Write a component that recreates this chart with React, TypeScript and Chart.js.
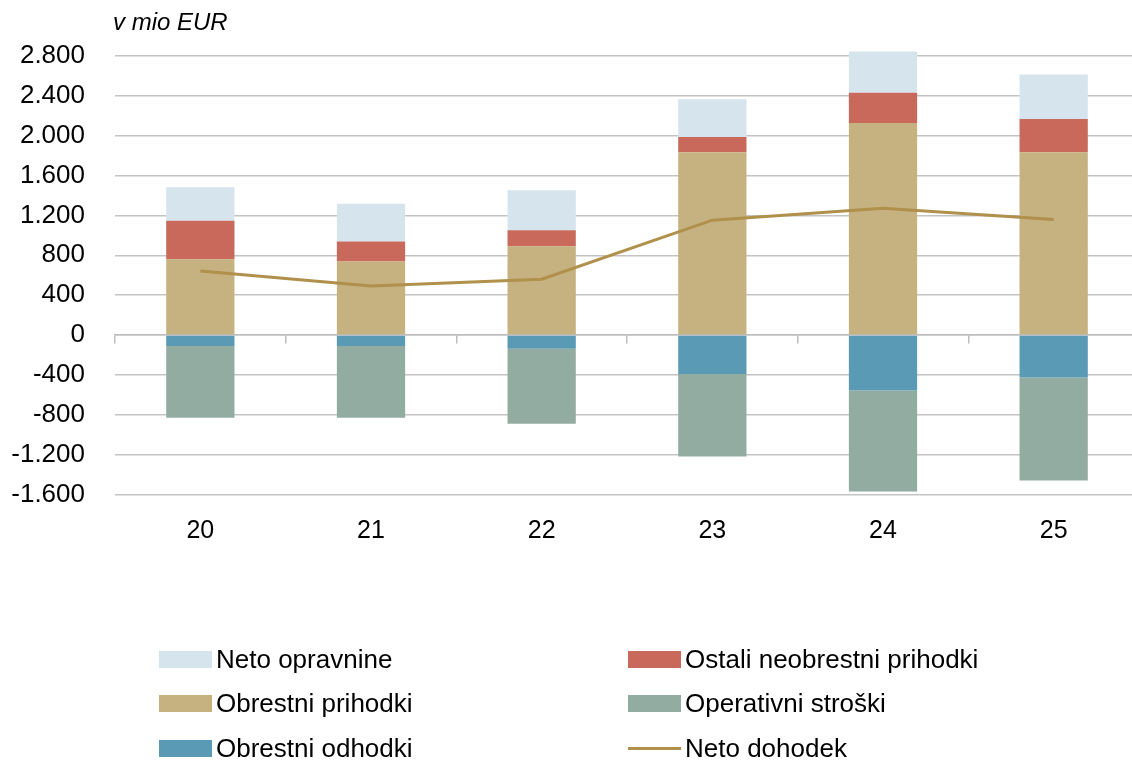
import React, { useEffect, useRef } from 'react';
import { Chart, registerables } from 'chart.js';

Chart.register(...registerables);

const categories = ['20', '21', '22', '23', '24', '25'];
const obrestniPrihodki = [761, 737, 891, 1835, 2128, 1834];
const ostaliNeobrestni = [385, 201, 161, 151, 302, 335];
const netoOpravnine = [336, 379, 402, 379, 415, 445];
const obrestniOdhodki = [-111, -111, -137, -392, -556, -427];
const operativniStroski = [-720, -720, -754, -826, -1015, -1032];
const netoDohodek = [643, 492, 560, 1153, 1273, 1160];

const yMin = -1600;
const yMax = 2800;
const yStep = 400;

const colors = {
  neto: '#D6E5ED',
  ostali: '#C9695C',
  obrPri: '#C5B280',
  oper: '#93ACA1',
  obrOdh: '#5B9AB4',
  line: '#B0904A',
};

const FONT = '"Liberation Sans", Arial, Helvetica, sans-serif';

function fmt(v: number): string {
  const neg = v < 0;
  const s = Math.abs(Math.round(v)).toString().replace(/\B(?=(\d{3})+(?!\d))/g, '.');
  return (neg ? '-' : '') + s;
}

const legendItems = [
  { label: 'Neto opravnine', color: colors.neto, x: 159, y: 659, line: false },
  { label: 'Ostali neobrestni prihodki', color: colors.ostali, x: 628, y: 659, line: false },
  { label: 'Obrestni prihodki', color: colors.obrPri, x: 159, y: 703, line: false },
  { label: 'Operativni stroški', color: colors.oper, x: 628, y: 703, line: false },
  { label: 'Obrestni odhodki', color: colors.obrOdh, x: 159, y: 748, line: false },
  { label: 'Neto dohodek', color: colors.line, x: 628, y: 748, line: true },
];

export default function App() {
  const ref = useRef<HTMLCanvasElement>(null);

  useEffect(() => {
    if (!ref.current) return;
    const bar = (label: string, data: number[], color: string) => ({
      type: 'bar' as const,
      label,
      data,
      backgroundColor: color,
      borderWidth: 0,
      stack: 'bars',
      order: 1,
      clip: false,
      barPercentage: 0.4,
      categoryPercentage: 1,
      xAxisID: 'x',
      yAxisID: 'y',
    });
    const chart = new Chart(ref.current, {
      type: 'bar',
      data: {
        labels: categories,
        datasets: [
          {
            type: 'line' as const,
            label: 'Neto dohodek',
            data: netoDohodek,
            borderColor: colors.line,
            backgroundColor: colors.line,
            borderWidth: 3,
            pointRadius: 0,
            tension: 0,
            fill: false,
            stack: 'line',
            order: 0,
            xAxisID: 'x',
            yAxisID: 'y',
          } as any,
          bar('Obrestni prihodki', obrestniPrihodki, colors.obrPri),
          bar('Ostali neobrestni prihodki', ostaliNeobrestni, colors.ostali),
          bar('Neto opravnine', netoOpravnine, colors.neto),
          bar('Obrestni odhodki', obrestniOdhodki, colors.obrOdh),
          bar('Operativni stroški', operativniStroski, colors.oper),
        ],
      },
      options: {
        responsive: false,
        animation: false,
        devicePixelRatio: 1,
        layout: { padding: { top: 56, right: 1, left: 0, bottom: 0 } },
        plugins: {
          legend: { display: false },
          tooltip: { enabled: false },
          title: { display: false },
        },
        scales: {
          x: {
            type: 'category',
            stacked: true,
            offset: true,
            grid: { display: false, drawTicks: false },
            border: { display: false },
            ticks: {
              color: '#000',
              font: { family: FONT, size: 25 },
              padding: 22,
            },
            afterFit: (scale: any) => {
              scale.height = 763 - 494.5;
            },
          },
          x2: {
            type: 'category',
            position: { y: 0 } as any,
            offset: true,
            grid: {
              offset: true,
              drawOnChartArea: false,
              drawTicks: true,
              tickLength: 8,
              color: '#bdbdbd',
              lineWidth: 1.5,
            },
            border: { display: true, color: '#bdbdbd', width: 1.5 },
            ticks: { display: false },
          },
          y: {
            stacked: true,
            min: yMin,
            max: yMax,
            grid: {
              color: '#c3c3c3',
              lineWidth: 1.5,
              drawTicks: false,
            },
            border: { display: false },
            ticks: {
              stepSize: yStep,
              color: '#000',
              font: { family: FONT, size: 26 },
              padding: 30,
              callback: (v: any) => fmt(Number(v)),
            },
            afterFit: (scale: any) => {
              scale.width = 115;
            },
          },
        },
      } as any,
    });
    return () => chart.destroy();
  }, []);

  return (
    <div
      style={{
        position: 'absolute',
        left: 0,
        top: 0,
        width: 1132,
        height: 763,
        overflow: 'hidden',
        background: '#fff',
        fontFamily: FONT,
      }}
    >
      <canvas
        ref={ref}
        width={1140}
        height={763}
        style={{ position: 'absolute', left: 0, top: 0, width: 1140, height: 763 }}
      />
      <div
        style={{
          position: 'absolute',
          left: 113,
          top: 8,
          fontSize: 24,
          lineHeight: '28px',
          fontStyle: 'italic',
          color: '#000',
          whiteSpace: 'nowrap',
        }}
      >
        v mio EUR
      </div>
      {legendItems.map((it) => (
        <div key={it.label}>
          <div
            style={{
              position: 'absolute',
              left: it.x,
              top: it.line ? it.y - 1.5 : it.y - 8.5,
              width: 53,
              height: it.line ? 3 : 17,
              background: it.color,
            }}
          />
          <div
            style={{
              position: 'absolute',
              left: it.x + 57,
              top: it.y - 15,
              fontSize: 26,
              lineHeight: '30px',
              color: '#000',
              whiteSpace: 'nowrap',
            }}
          >
            {it.label}
          </div>
        </div>
      ))}
    </div>
  );
}
